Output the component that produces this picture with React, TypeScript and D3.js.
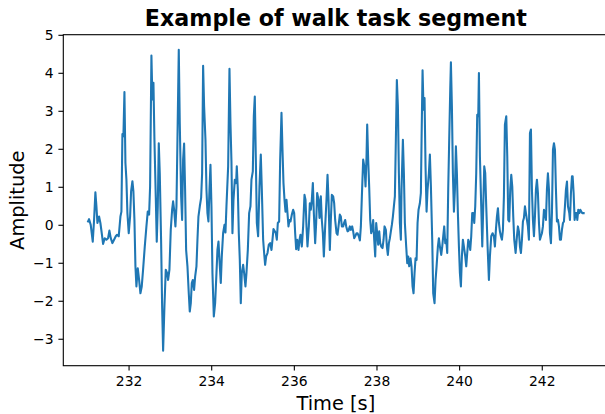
import React from "react";
import * as d3 from "d3";

// [time (s), amplitude] samples, in order
const segment1: [number, number][] = [
  [231.008, 0.10], [231.032, 0.16], [231.072, 0.01], [231.121, -0.43], [231.153, 0.14], [231.185, 0.87],
  [231.210, 0.50], [231.234, 0.06], [231.274, 0.23], [231.306, 0.06], [231.339, -0.21], [231.371, -0.49],
  [231.411, -0.34], [231.452, -0.38], [231.492, -0.34], [231.524, -0.14], [231.557, -0.34], [231.597, -0.47],
  [231.637, -0.38], [231.678, -0.29], [231.710, -0.25], [231.750, -0.29], [231.791, 0.23], [231.815, 0.36],
  [231.839, 2.40], [231.863, 2.34], [231.888, 3.51], [231.912, 1.64], [231.936, 1.20], [231.960, 0.32],
  [231.992, -0.21], [232.025, 0.23], [232.049, 0.89], [232.081, 1.16], [232.105, 0.89], [232.130, 0.14],
  [232.154, -1.08], [232.178, -1.61], [232.210, -1.13], [232.243, -1.44], [232.275, -1.79], [232.307, -1.61],
  [232.339, -1.17], [232.380, -0.56], [232.420, -0.03], [232.452, 0.36], [232.485, 0.28], [232.509, 1.02],
  [232.541, 4.47], [232.565, 3.31], [232.590, 3.75], [232.614, 2.25], [232.646, 0.76], [232.670, -0.43],
  [232.695, 0.50], [232.719, 2.16], [232.743, 1.37], [232.775, -0.38], [232.800, -2.14], [232.824, -3.30],
  [232.856, -2.14], [232.888, -1.17],
];

const segment2: [number, number][] = [
  [232.921, -1.26], [232.945, -1.44], [232.977, -1.17], [233.009, -0.12], [233.042, 0.41], [233.066, 0.63],
  [233.090, 0.41], [233.122, -0.03], [233.147, 0.50], [233.171, 2.25], [233.203, 4.62], [233.227, 2.69],
  [233.260, 0.76], [233.284, 0.14], [233.308, 1.73], [233.332, 2.15], [233.356, 0.94], [233.381, -0.65],
  [233.413, -1.08], [233.445, -1.79], [233.469, -2.27], [233.494, -2.05], [233.518, -1.52], [233.542, -1.44],
  [233.574, -1.70], [233.599, -1.35], [233.631, -1.08], [233.655, -0.38], [233.679, 0.23], [233.712, 0.50],
  [233.744, 0.72], [233.768, 1.37], [233.792, 4.20], [233.816, 3.13], [233.849, 2.25], [233.873, 0.94],
  [233.897, 0.32], [233.921, 0.10], [233.946, 0.94], [233.970, 1.59], [233.994, 0.50], [234.018, -1.26],
  [234.051, -2.40], [234.083, -2.05], [234.115, -1.26], [234.139, -0.65], [234.164, -0.43], [234.188, -0.91],
  [234.220, -1.52], [234.244, -0.82], [234.276, -0.21], [234.309, 0.01], [234.333, -0.19], [234.357, 0.50],
  [234.398, 1.55], [234.430, 4.12], [234.454, 2.69], [234.478, 1.68], [234.502, -0.21], [234.527, 0.67],
  [234.559, 1.20], [234.591, 1.11], [234.607, 1.55], [234.632, 0.94], [234.656, -0.21], [234.680, -0.91],
  [234.704, -2.05], [234.728, -1.26], [234.761, -1.04], [234.785, -1.26], [234.817, -1.61], [234.841, -1.26],
  [234.874, -0.65], [234.906, 0.32],
];

const segment3: [number, number][] = [
  [234.938, 0.50], [234.962, 1.20], [234.995, 1.42], [235.019, 2.87], [235.043, 3.39], [235.067, 1.81],
  [235.092, 0.06], [235.124, -0.29], [235.156, 1.02], [235.188, 1.86], [235.213, 0.94], [235.245, -0.38],
  [235.269, -0.73], [235.293, -1.04], [235.318, -0.82], [235.350, -0.73], [235.382, -0.51], [235.414, -0.47],
  [235.447, -0.65], [235.471, -0.38], [235.495, -0.10], [235.527, -0.16], [235.552, -0.21], [235.576, -0.38],
  [235.600, 0.06], [235.632, 0.10], [235.657, 1.73], [235.689, 2.96], [235.713, 1.99], [235.737, 1.11],
  [235.762, 0.67], [235.786, 0.36], [235.810, 0.67], [235.834, 0.32], [235.858, -0.03], [235.883, 0.14],
  [235.907, 0.10], [235.939, 0.28], [235.971, 0.41], [235.996, 0.32], [236.020, -0.21], [236.044, -0.63],
  [236.068, -0.38], [236.101, -0.65], [236.125, -0.38], [236.149, -0.25], [236.181, -0.56], [236.213, -0.03],
  [236.246, 0.80], [236.270, 0.67], [236.294, -0.03], [236.318, -0.56], [236.351, -0.03], [236.375, 0.58],
  [236.399, 0.41], [236.423, 0.67], [236.448, 1.11], [236.472, 0.32], [236.504, -0.47], [236.528, 0.06],
  [236.552, 0.85], [236.585, 0.67], [236.609, 0.19], [236.641, 0.76], [236.665, 0.14], [236.690, -0.21],
  [236.714, -0.82], [236.746, -0.03], [236.778, 0.67], [236.803, 1.33], [236.827, 0.67],
];

const segment4: [number, number][] = [
  [236.859, -0.65], [236.883, 0.14], [236.908, 0.80], [236.940, 0.76], [236.964, 0.58], [236.988, 0.14],
  [237.021, -0.21], [237.045, -0.25], [237.069, -0.03], [237.101, 0.28], [237.125, 0.23], [237.150, -0.03],
  [237.182, -0.03], [237.206, 0.07], [237.230, 0.14], [237.255, -0.03], [237.287, -0.16], [237.311, -0.14],
  [237.343, -0.03], [237.368, -0.12], [237.400, -0.03], [237.424, -0.16], [237.448, -0.34], [237.473, -0.29],
  [237.505, -0.21], [237.529, -0.21], [237.561, -0.29], [237.586, -0.40], [237.610, -0.03], [237.634, 0.76],
  [237.666, 1.73], [237.699, 1.51], [237.723, 1.02], [237.747, 1.81], [237.763, 2.65], [237.787, 1.73],
  [237.811, 1.02], [237.836, 0.14], [237.860, -0.21], [237.884, -0.12], [237.908, 0.14], [237.933, -0.38],
  [237.957, -0.82], [237.981, 0.06], [238.005, -0.21], [238.029, -0.51], [238.054, -0.16], [238.078, -0.47],
  [238.102, -0.56], [238.134, -0.60], [238.159, -0.38], [238.183, -0.03], [238.215, -0.12], [238.239, -0.56],
  [238.263, -0.78], [238.288, -0.47], [238.312, -0.34], [238.336, -0.16], [238.360, 0.01], [238.385, 0.23],
  [238.409, 0.50], [238.433, 0.76], [238.457, 2.25], [238.481, 3.82], [238.506, 3.13], [238.530, 1.37],
  [238.554, 0.06], [238.578, -0.38],
];

const segment5: [number, number][] = [
  [238.594, 0.94], [238.627, 2.25], [238.651, 1.37], [238.675, 0.06], [238.707, -0.56], [238.732, -1.00],
  [238.756, -0.82], [238.780, -1.08], [238.812, -0.87], [238.836, -1.08], [238.861, -1.61], [238.885, -1.79],
  [238.909, -1.26], [238.933, -0.87], [238.958, -0.91], [238.982, 0.06], [239.006, 0.41], [239.038, 0.58],
  [239.062, 0.85], [239.079, 2.25], [239.103, 4.08], [239.127, 3.04], [239.151, 3.35], [239.175, 1.55],
  [239.200, 0.36], [239.224, 0.94], [239.256, 1.37], [239.280, 1.86], [239.305, 1.02], [239.337, -0.38],
  [239.361, -1.79], [239.393, -2.05], [239.418, -1.44], [239.442, -1.08], [239.474, -0.56], [239.498, -0.34],
  [239.523, -0.56], [239.555, -0.78], [239.579, -0.56], [239.603, -0.29], [239.627, -0.03], [239.652, -0.47],
  [239.676, -0.38], [239.700, -0.73], [239.724, 0.94], [239.748, 2.25], [239.773, 3.57], [239.789, 4.29],
  [239.813, 3.13], [239.837, 1.37], [239.862, 0.36], [239.886, 0.94], [239.910, 2.08], [239.934, 1.37],
  [239.958, 0.32], [239.983, -0.56], [240.007, -1.26], [240.031, -1.61], [240.055, -0.82], [240.079, -0.38],
  [240.104, -0.56], [240.136, -0.82], [240.160, -1.08], [240.184, -0.73], [240.209, -0.38], [240.233, -0.47],
  [240.257, -0.65], [240.281, -0.29], [240.305, 0.32], [240.330, 0.32], [240.354, 0.06], [240.378, 0.50],
  [240.402, 1.37], [240.426, 2.91], [240.451, 2.87], [240.467, 4.01], [240.491, 1.81], [240.523, 0.50],
  [240.548, -0.56], [240.572, 0.50], [240.596, 1.55], [240.620, 1.37], [240.644, 0.50], [240.677, -0.56],
  [240.709, -1.44],
];

const segment6: [number, number][] = [
  [240.733, -0.82], [240.765, -0.29], [240.798, -0.21], [240.830, -0.29], [240.854, -0.56], [240.878, -0.12],
  [240.903, 0.23], [240.927, 0.45], [240.951, 0.06], [240.975, -0.16], [240.999, -0.29], [241.024, -0.38],
  [241.048, -0.12], [241.072, 0.76], [241.096, 2.65], [241.129, 2.87], [241.153, 1.81], [241.177, 0.14],
  [241.201, 0.10], [241.225, 0.94], [241.250, 1.33], [241.274, 1.02], [241.298, 0.23], [241.322, -0.38],
  [241.355, -0.73], [241.387, -0.29], [241.411, -0.03], [241.435, -0.16], [241.460, -0.56], [241.484, -0.73],
  [241.508, -0.38], [241.532, 0.10], [241.556, 0.19], [241.581, 0.50], [241.605, 0.32], [241.629, 0.14],
  [241.653, -0.03], [241.677, -0.38], [241.702, 2.43], [241.726, 2.52], [241.750, 0.94], [241.774, 0.14],
  [241.799, -0.29], [241.823, 0.23], [241.847, 0.94], [241.871, 1.20], [241.895, 0.85], [241.920, 0.06],
  [241.944, -0.38], [241.968, -0.29], [241.992, -0.21], [242.016, -0.03], [242.041, 0.41], [242.065, 0.32],
  [242.089, 0.14], [242.113, 0.94], [242.137, 1.37], [242.162, 0.94], [242.186, -0.21], [242.210, -0.47],
  [242.234, 0.32], [242.259, 1.99], [242.283, 2.16], [242.307, 1.99], [242.331, 0.94], [242.355, 0.10],
  [242.380, 0.14], [242.404, -0.03], [242.428, -0.38], [242.452, -0.38], [242.476, -0.12], [242.501, 0.06],
  [242.525, 0.10], [242.549, 0.50], [242.573, 0.94], [242.598, 1.15], [242.622, 0.50], [242.654, 0.32],
  [242.670, 0.14], [242.694, 0.85], [242.719, 1.29], [242.735, 1.29], [242.759, 0.85], [242.783, 0.14],
  [242.807, 0.32], [242.832, 0.32], [242.848, 0.14], [242.872, 0.41], [242.896, 0.32], [242.920, 0.41],
  [242.945, 0.36], [242.969, 0.32], [243.001, 0.32],
];

const xTicks = [232, 234, 236, 238, 240, 242];
const yTicks = [-3, -2, -1, 0, 1, 2, 3, 4, 5];
const titleText = "Example of walk task segment";
const xLabel = "Time [s]";
const yLabel = "Amplitude";

const W = 605;
const H = 414;
const AX_L = 63.3;
const AX_R = 608.4;
const AX_T = 34.7;
const AX_B = 365.7;
const FONT = "'DejaVu Sans', sans-serif";
const INK = "#000";

export default function App() {
  const data = [...segment1, ...segment2, ...segment3, ...segment4, ...segment5, ...segment6];
  const [x0, x1] = d3.extent(data, (d) => d[0]) as [number, number];
  const [y0, y1] = d3.extent(data, (d) => d[1]) as [number, number];
  const xm = (x1 - x0) * 0.05;
  const ym = (y1 - y0) * 0.05;
  const x = d3.scaleLinear().domain([x0 - xm, x1 + xm]).range([AX_L, AX_R]);
  const y = d3.scaleLinear().domain([y0 - ym, y1 + ym]).range([AX_B, AX_T]);
  const line = d3
    .line<[number, number]>()
    .x((d) => x(d[0]))
    .y((d) => y(d[1]));
  const fmt = (v: number) => (v < 0 ? "\u2212" + Math.abs(v) : String(v));

  return (
    <div style={{ position: "fixed", left: 0, top: 0, width: W, height: H, background: "#fff" }}>
      <svg width={W} height={H} style={{ display: "block" }} fontFamily={FONT}>
        <rect x={0} y={0} width={W} height={H} fill="#fff" />
        <path
          d={line(data) || ""}
          fill="none"
          stroke="#1f77b4"
          strokeWidth={2.08}
          strokeLinejoin="round"
          strokeLinecap="square"
        />
        {/* spines */}
        <rect x={AX_L} y={AX_T} width={AX_R - AX_L} height={AX_B - AX_T} fill="none" stroke={INK} strokeWidth={1.1} />
        {/* x ticks */}
        {xTicks.map((t) => (
          <g key={"x" + t}>
            <line x1={x(t)} x2={x(t)} y1={AX_B} y2={AX_B + 4.9} stroke={INK} strokeWidth={1.1} />
            <text x={x(t)} y={386} textAnchor="middle" fontSize={13.9} fill={INK}>
              {fmt(t)}
            </text>
          </g>
        ))}
        {/* y ticks */}
        {yTicks.map((t) => (
          <g key={"y" + t}>
            <line x1={AX_L - 4.9} x2={AX_L} y1={y(t)} y2={y(t)} stroke={INK} strokeWidth={1.1} />
            <text x={AX_L - 9.8} y={y(t) + 5} textAnchor="end" fontSize={13.9} fill={INK}>
              {fmt(t)}
            </text>
          </g>
        ))}
        <text x={(AX_L + AX_R) / 2} y={26.4} textAnchor="middle" fontSize={22.2} fontWeight="bold" fill={INK}>
          {titleText}
        </text>
        <text x={(AX_L + AX_R) / 2} y={409.5} textAnchor="middle" fontSize={19.4} fill={INK}>
          {xLabel}
        </text>
        <text
          transform={`translate(23.5, ${(AX_T + AX_B) / 2}) rotate(-90)`}
          textAnchor="middle"
          fontSize={19.4}
          fill={INK}
        >
          {yLabel}
        </text>
      </svg>
    </div>
  );
}
